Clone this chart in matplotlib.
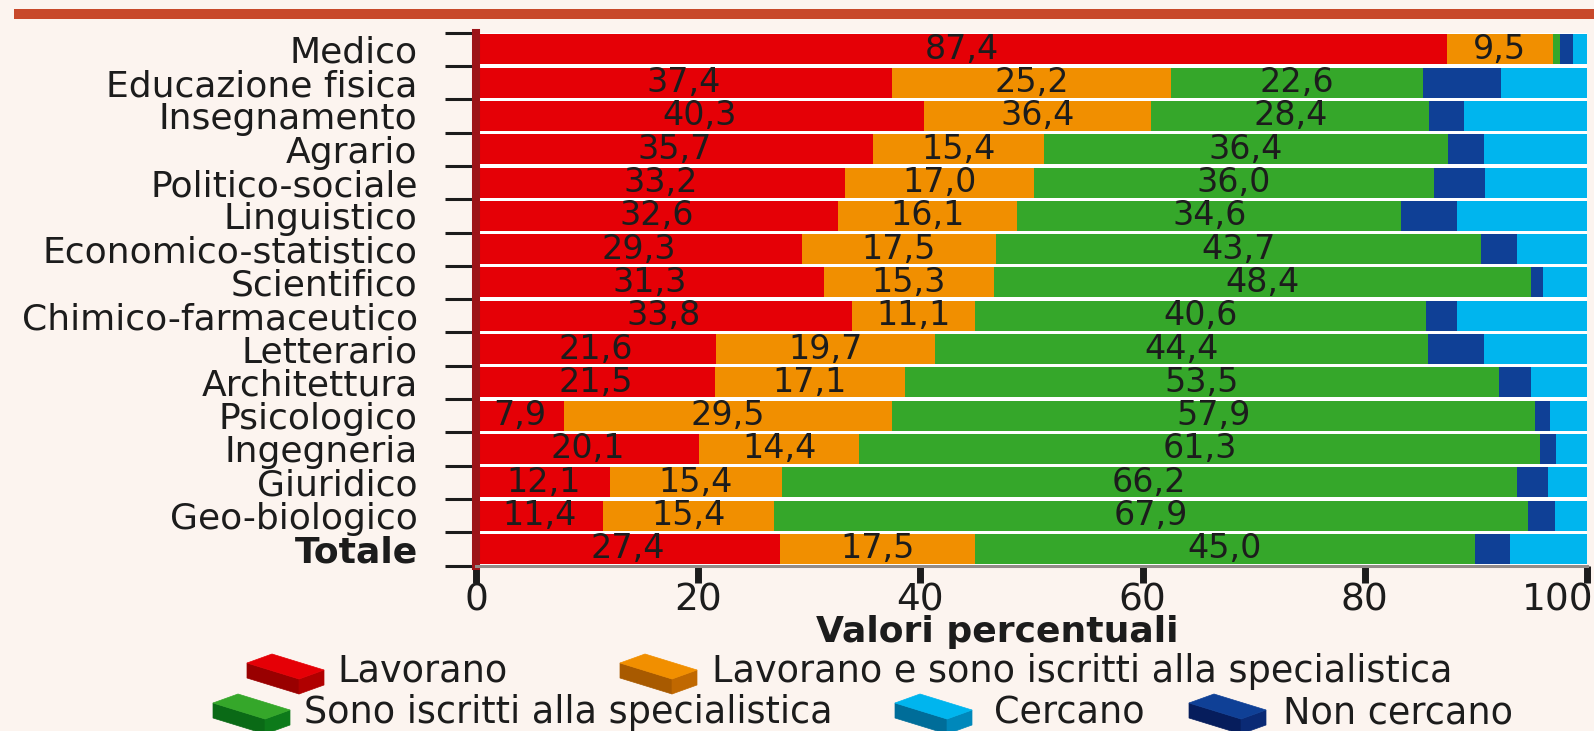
import matplotlib
matplotlib.use('Agg')
import matplotlib.pyplot as plt
from matplotlib.patches import Polygon, Rectangle
from matplotlib.transforms import ScaledTranslation

# Categories, top to bottom
categorie = ['Medico', 'Educazione fisica', 'Insegnamento', 'Agrario', 'Politico-sociale',
             'Linguistico', 'Economico-statistico', 'Scientifico', 'Chimico-farmaceutico',
             'Letterario', 'Architettura', 'Psicologico', 'Ingegneria', 'Giuridico',
             'Geo-biologico', 'Totale']

# Bar widths (percent) as drawn
lavorano = [87.4, 37.4, 40.3, 35.7, 33.2, 32.6, 29.3, 31.3, 33.8, 21.6, 21.5, 7.9, 20.1, 12.1, 11.4, 27.4]
lav_iscritti = [9.5, 25.2, 20.5, 15.4, 17.0, 16.1, 17.5, 15.3, 11.1, 19.7, 17.1, 29.5, 14.4, 15.4, 15.4, 17.5]
iscritti = [0.7, 22.6, 25.0, 36.4, 36.0, 34.6, 43.7, 48.4, 40.6, 44.4, 53.5, 57.9, 61.3, 66.2, 67.9, 45.0]
non_cercano = [1.1, 7.1, 3.1, 3.2, 4.6, 5.0, 3.2, 1.0, 2.8, 5.0, 2.9, 1.4, 1.4, 2.8, 2.4, 3.2]
cercano = [1.3, 7.7, 11.1, 9.3, 9.2, 11.7, 6.3, 4.0, 11.7, 9.3, 5.0, 3.3, 2.8, 3.5, 2.9, 6.9]

# Numbers printed on the bars (the Insegnamento row is printed differently from its widths)
etich_lavorano = lavorano
etich_lav_iscritti = [9.5, 25.2, 36.4, 15.4, 17.0, 16.1, 17.5, 15.3, 11.1, 19.7, 17.1, 29.5, 14.4, 15.4, 15.4, 17.5]
etich_iscritti = [0.7, 22.6, 28.4, 36.4, 36.0, 34.6, 43.7, 48.4, 40.6, 44.4, 53.5, 57.9, 61.3, 66.2, 67.9, 45.0]

x_ticks = [0, 20, 40, 60, 80, 100]

BG = '#fcf4ef'
C_RED = '#e50006'
C_ORANGE = '#f18f00'
C_GREEN = '#35a72a'
C_DBLUE = '#0f4096'
C_LBLUE = '#00b5ee'
DARK = '#1c1c1c'

W, H = 1594, 731
fig = plt.figure(figsize=(W / 100, H / 100), dpi=100, facecolor=BG)
plt.rcParams['font.family'] = ['DejaVu Sans']

# axes placed in pixel terms: x 476..1587, y 32.7..565.5
ax = fig.add_axes([476 / W, 1 - 565.5 / H, 1111 / W, 532.8 / H])
ax.set_facecolor('white')

ypos = list(range(len(categorie)))
h = 0.9
series = [(lavorano, C_RED), (lav_iscritti, C_ORANGE), (iscritti, C_GREEN),
          (non_cercano, C_DBLUE), (cercano, C_LBLUE)]
left = [0.0] * len(categorie)
for vals, col in series:
    ax.barh(ypos, vals, left=left, height=h, color=col, edgecolor='none', zorder=2)
    left = [a + b for a, b in zip(left, vals)]

# value labels on first three segments
start = [0.0] * len(categorie)
for vals, labs in [(lavorano, etich_lavorano), (lav_iscritti, etich_lav_iscritti), (iscritti, etich_iscritti)]:
    for i, (v, l) in enumerate(zip(vals, labs)):
        if v > 2:
            ax.text(start[i] + v / 2, i, f'{l:.1f}'.replace('.', ','), ha='center', va='center',
                    fontsize=24, color=DARK, zorder=3)
    start = [a + b for a, b in zip(start, vals)]

ax.set_xlim(0, 100)
ax.set_ylim(len(categorie) - 0.5, -0.5)

# spines
for s in ['top', 'right']:
    ax.spines[s].set_visible(False)
ax.spines['left'].set_color('#9c1418')
ax.spines['left'].set_linewidth(5.8)
ax.spines['left'].set_zorder(4)
ax.spines['bottom'].set_color('#938c89')
ax.spines['bottom'].set_linewidth(2.2)
ax.spines['bottom'].set_zorder(4)

# y: labels at centres, ticks at boundaries
ax.set_yticks(ypos)
ax.set_yticklabels(categorie, fontsize=26, color=DARK)
ax.get_yticklabels()[-1].set_fontweight('bold')
ax.tick_params(axis='y', which='major', length=0, pad=42)
ax.set_yticks([i - 0.5 for i in range(len(categorie) + 1)], minor=True)
ax.tick_params(axis='y', which='minor', length=22, width=2.2, color=DARK, direction='out')

ax.set_xticks(x_ticks)
ax.set_xticklabels([str(t) for t in x_ticks], fontsize=27, color=DARK)
ax.tick_params(axis='x', length=12, width=5, color=DARK, pad=0)
last = ax.get_xticklabels()[-1]
last.set_ha('right')
last.set_transform(last.get_transform() + ScaledTranslation(5 / 72, 0, fig.dpi_scale_trans))

# axis title
fig.text(816 / W, 1 - 642 / H, 'Valori percentuali', fontsize=26, fontweight='bold',
         color=DARK, ha='left', va='baseline')

# top decorative rule
fig.patches.append(Rectangle((14 / W, 1 - 19 / H), 1 - 14 / W, 10 / H,
                             transform=fig.transFigure, facecolor='#c8492b', edgecolor='none'))


def brick(x0, y0, top, front, side):
    pts = {'A': (0, 0), 'B': (25, -9), 'C': (77, 7), 'D': (52, 16),
           'E': (52, 31), 'F': (77, 22), 'G': (0, 15)}
    def f(k):
        px, py = pts[k]
        return ((x0 + px) / W, 1 - (y0 + py) / H)
    for keys, col in [('ADEG', front), ('DCFE', side), ('ABCD', top)]:
        fig.patches.append(Polygon([f(k) for k in keys], closed=True, transform=fig.transFigure,
                                   facecolor=col, edgecolor=col, linewidth=0.5))


legend = [
    (247, 663, C_RED, '#990000', '#b00000', 337, 682, 'Lavorano'),
    (620, 663, C_ORANGE, '#a85a00', '#c06800', 712, 682, 'Lavorano e sono iscritti alla specialistica'),
    (213, 703, C_GREEN, '#0a6a16', '#0d7a1a', 304, 723, 'Sono iscritti alla specialistica'),
    (895, 703, C_LBLUE, '#006d99', '#0088bb', 994, 723, 'Cercano'),
    (1189, 703, C_DBLUE, '#061d5c', '#0a2a75', 1283, 723, 'Non cercano'),
]
for bx, by, top, front, side, tx, ty, txt in legend:
    brick(bx, by, top, front, side)
    fig.text(tx / W, 1 - ty / H, txt, fontsize=26.4, color=DARK, ha='left', va='baseline')

fig.savefig('out.png', dpi=100, facecolor=BG)
